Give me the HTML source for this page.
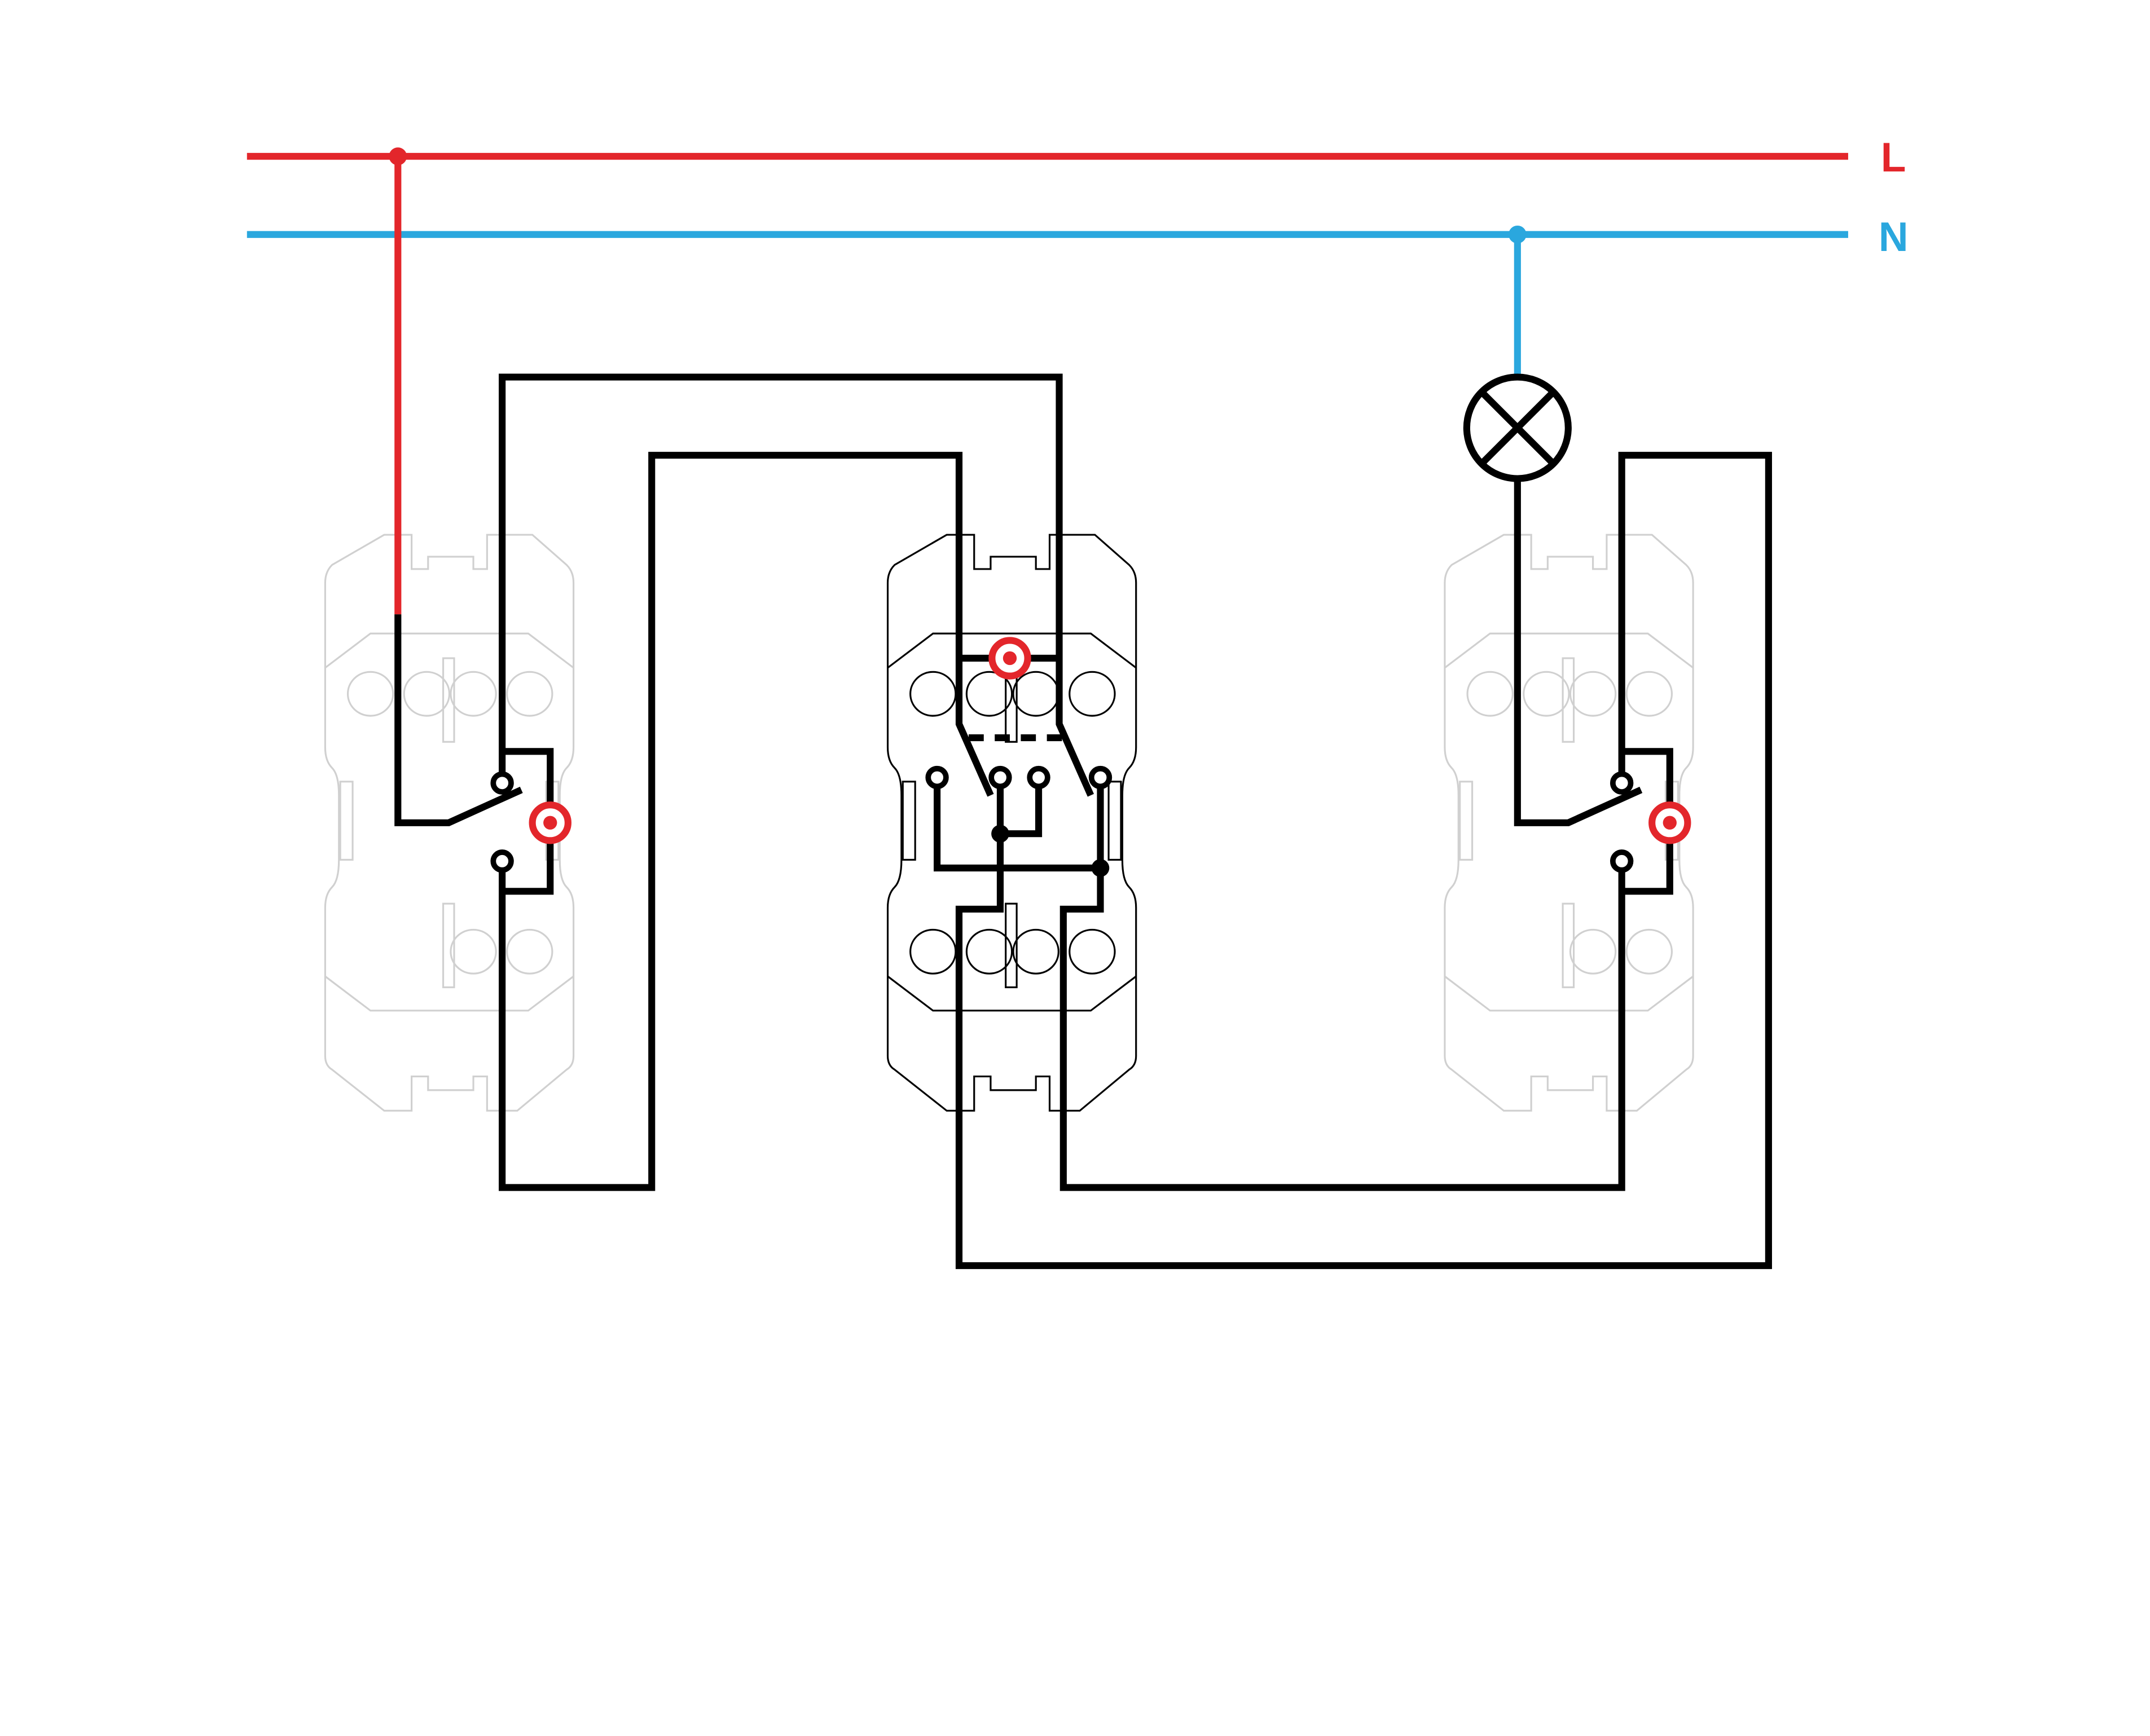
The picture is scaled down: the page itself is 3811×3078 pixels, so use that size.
<!DOCTYPE html>
<html><head><meta charset="utf-8"><style>
html,body{margin:0;padding:0;background:#fff}
svg{display:block}
</style></head><body>
<svg width="3811" height="3078" viewBox="0 0 1567 1266" preserveAspectRatio="none" xmlns="http://www.w3.org/2000/svg">
<defs>
<g id="dev" fill="none" stroke-width="1.3">
<path d="M43 0 L63 0 L63 25 L75 25 L75 16 L108 16 L108 25 L118 25 L118 0 L151 0 L176 22 Q181 27 181 35 L181 155 Q181 165 176 170 Q171 175 171 190 L171 237 Q171 252 176 257 Q181 262 181 272 L181 380 Q181 387 176 390 L140 420 L118 420 L118 395 L108 395 L108 405 L75 405 L75 395 L63 395 L63 420 L43 420 L5 390 Q0 387 0 380 L0 272 Q0 262 5 257 Q10 252 10 237 L10 190 Q10 175 5 170 Q0 165 0 155 L0 35 Q0 27 5 22 Z"/>
<polyline points="0,97 33,72 148,72 181,97"/>
<polyline points="0,322 33,347 148,347 181,322"/>
<rect x="86" y="90" width="8" height="61"/>
<rect x="86" y="269" width="8" height="61"/>
<rect x="11" y="180" width="9" height="57"/>
<rect x="161" y="180" width="9" height="57"/>
<ellipse cx="33" cy="116" rx="16.5" ry="16"/>
<ellipse cx="74" cy="116" rx="16.5" ry="16"/>
<ellipse cx="108" cy="116" rx="16.5" ry="16"/>
<ellipse cx="149" cy="116" rx="16.5" ry="16"/>
<ellipse cx="108" cy="304" rx="16.5" ry="16"/>
<ellipse cx="149" cy="304" rx="16.5" ry="16"/>
</g>
<g id="bl" fill="none" stroke-width="1.3">
<ellipse cx="33" cy="304" rx="16.5" ry="16"/>
<ellipse cx="74" cy="304" rx="16.5" ry="16"/>
</g>
</defs>
<use href="#dev" x="237" y="390" stroke="#d0d0d0"/>
<use href="#dev" x="647" y="390" stroke="#000"/>
<use href="#bl" x="647" y="390" stroke="#000"/>
<use href="#dev" x="1053" y="390" stroke="#d0d0d0"/>

<line x1="180" y1="114" x2="1347" y2="114" stroke="#e3262b" stroke-width="5"/>
<line x1="180" y1="171" x2="1347" y2="171" stroke="#2aa7de" stroke-width="5"/>
<circle cx="290" cy="114" r="6.5" fill="#e3262b"/>
<circle cx="1106" cy="171" r="6.5" fill="#2aa7de"/>
<line x1="290" y1="114" x2="290" y2="448" stroke="#e3262b" stroke-width="5"/>
<line x1="1106" y1="171" x2="1106" y2="275" stroke="#2aa7de" stroke-width="5"/>
<text x="1380" y="125" font-family="Liberation Sans, sans-serif" font-weight="bold" font-size="30" fill="#e3262b" text-anchor="middle">L</text>
<text x="1380" y="183" font-family="Liberation Sans, sans-serif" font-weight="bold" font-size="30" fill="#2aa7de" text-anchor="middle">N</text>

<g fill="none" stroke="#000" stroke-width="5" stroke-linejoin="miter">
<circle cx="1106" cy="312" r="37"/>
<line x1="1080" y1="286" x2="1132" y2="338"/>
<line x1="1132" y1="286" x2="1080" y2="338"/>
<polyline points="290,448 290,600 327,600 380,576"/>
<polyline points="366,565 366,275 772,275 772,528 795,580"/>
<polyline points="366,634 366,866 475,866 475,332 699,332 699,528 722,580"/>
<polyline points="366,548 401,548 401,650 366,650"/>
<line x1="699" y1="480" x2="772" y2="480"/>
<line x1="706" y1="538" x2="778" y2="538" stroke-dasharray="11,8"/>
<polyline points="683,573 683,633 802,633"/>
<polyline points="729,573 729,663 699,663 699,923 1289,923 1289,332 1182,332 1182,565"/>
<polyline points="729,608 757,608 757,573"/>
<polyline points="802,573 802,663 775,663 775,866 1182,866 1182,634"/>
<polyline points="1106,350 1106,600 1143,600 1196,576"/>
<polyline points="1182,548 1217,548 1217,650 1182,650"/>
</g>
<g fill="#fff" stroke="#000" stroke-width="4">
<circle cx="366" cy="571" r="6.5"/><circle cx="366" cy="628" r="6.5"/>
<circle cx="1182" cy="571" r="6.5"/><circle cx="1182" cy="628" r="6.5"/>
<circle cx="683" cy="567" r="6.5"/><circle cx="729" cy="567" r="6.5"/>
<circle cx="757" cy="567" r="6.5"/><circle cx="802" cy="567" r="6.5"/>
</g>
<circle cx="729" cy="608" r="6.5" fill="#000"/>
<circle cx="802" cy="633" r="6.5" fill="#000"/>
<g>
<circle cx="401" cy="600" r="13" fill="#fff" stroke="#e3262b" stroke-width="5"/><circle cx="401" cy="600" r="5" fill="#e3262b"/>
<circle cx="1217" cy="600" r="13" fill="#fff" stroke="#e3262b" stroke-width="5"/><circle cx="1217" cy="600" r="5" fill="#e3262b"/>
<circle cx="736" cy="480" r="13" fill="#fff" stroke="#e3262b" stroke-width="5"/><circle cx="736" cy="480" r="5" fill="#e3262b"/>
</g>
</svg>
</body></html>
